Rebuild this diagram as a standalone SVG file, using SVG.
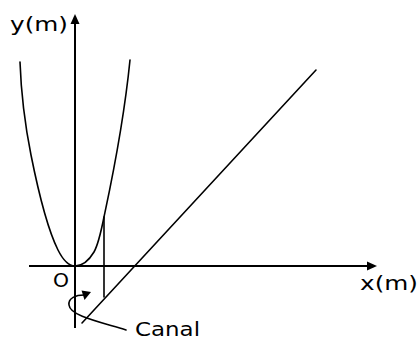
<svg xmlns="http://www.w3.org/2000/svg" width="419" height="340" viewBox="0 0 419 340">
<style>
.ax{stroke:#000;stroke-width:2;fill:none}
.ln{stroke:#000;stroke-width:1.6;fill:none;stroke-linejoin:round;stroke-linecap:round}
.ah{fill:#000;stroke:none}
.t{font-family:"DejaVu Sans","Verdana",sans-serif;font-size:19px;fill:#000}
</style>
<rect width="419" height="340" fill="#fff"/>
<g id="connectors">
<g id="y-axis">
<line class="ax" x1="75" y1="328" x2="75" y2="22"/>
<polygon class="ah" points="75,14 70.5,24 79.5,24"/>
</g>
<g id="x-axis">
<line class="ax" x1="29" y1="266" x2="368" y2="266"/>
<polygon class="ah" points="377,266 367,261.5 367,270.5"/>
</g>
<path id="canal-arrow" class="ln" d="M126,330 C100,322 70,316 69,305 C68,298 76,295 84,295"/>
<polygon class="ah" points="91,292 81.5,290.5 84.5,300"/>
</g>
<g id="parabola">
<path class="ln" d="M20,62 C21,90 25,125 31,155 C38,190 48,230 58,250 C64,262 70,266 75,266 C81,266 88,262 94,252 C98,245 101,232 104,217 C108,198 123,130 130,60"/>
</g>
<g id="vertical-line">
<line class="ln" x1="104" y1="217" x2="104" y2="297"/>
</g>
<g id="diagonal-line">
<line class="ln" x1="316" y1="70" x2="82" y2="323"/>
</g>
<g id="labels">
<text class="t" x="10" y="31" textLength="58" lengthAdjust="spacingAndGlyphs">y(m)</text>
<text class="t" x="360" y="290" textLength="58" lengthAdjust="spacingAndGlyphs">x(m)</text>
<text class="t" x="53" y="287" textLength="16" lengthAdjust="spacingAndGlyphs">O</text>
<text class="t" x="135" y="336" font-size="18" textLength="65" lengthAdjust="spacingAndGlyphs">Canal</text>
</g>
</svg>
